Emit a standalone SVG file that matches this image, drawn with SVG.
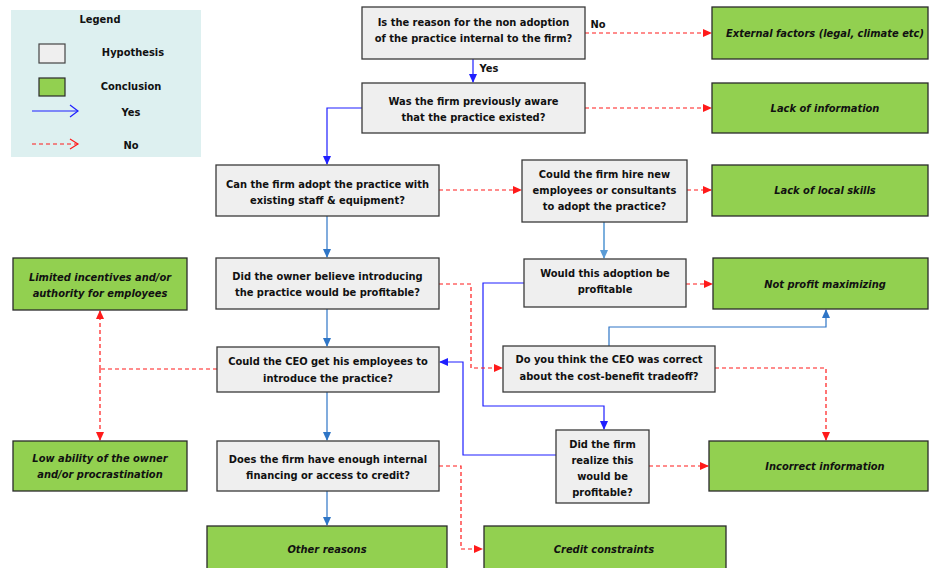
<svg xmlns="http://www.w3.org/2000/svg" width="929" height="568" viewBox="0 0 929 568">
<defs>
<style>
.hyp{fill:#efefef;stroke:#3a3a3a;stroke-width:1.3}
.con{fill:#92d050;stroke:#2a2a2a;stroke-width:1.3}
.t{font-family:"DejaVu Sans Condensed","Liberation Sans",sans-serif;font-weight:bold;font-size:11px;fill:#111;text-anchor:middle}
.ti{font-family:"DejaVu Sans Condensed","Liberation Sans",sans-serif;font-weight:bold;font-style:italic;font-size:11px;fill:#111;text-anchor:middle}
.no{fill:none;stroke:#ff1a1a;stroke-width:1.2;stroke-dasharray:4,3}
.yes{fill:none;stroke:#1f1fff;stroke-width:1.2}
.st{fill:none;stroke:#2e75c6;stroke-width:1.2}
.lt{fill:none;stroke:#5b9bd5;stroke-width:1.6}
</style>
<marker id="ar" markerWidth="9" markerHeight="8" refX="8" refY="4" orient="auto" markerUnits="userSpaceOnUse"><path d="M0,0 L9,4 L0,8 z" fill="#ff1a1a"/></marker>
<marker id="ab" markerWidth="9" markerHeight="8" refX="8" refY="4" orient="auto" markerUnits="userSpaceOnUse"><path d="M0,0 L9,4 L0,8 z" fill="#1f1fff"/></marker>
<marker id="as" markerWidth="9" markerHeight="8" refX="8" refY="4" orient="auto" markerUnits="userSpaceOnUse"><path d="M0,0 L9,4 L0,8 z" fill="#2e75c6"/></marker>
<marker id="al" markerWidth="9" markerHeight="8" refX="8" refY="4" orient="auto" markerUnits="userSpaceOnUse"><path d="M0,0 L9,4 L0,8 z" fill="#5b9bd5"/></marker>
</defs>
<rect width="929" height="568" fill="#ffffff"/>

<g id="legend">
<rect x="11" y="10" width="190" height="147" fill="#ddf0f0"/>
<text class="t" x="100" y="23">Legend</text>
<rect x="39" y="44" width="26" height="19" fill="#efefef" stroke="#444" stroke-width="1.2"/>
<text class="t" x="133" y="56">Hypothesis</text>
<rect x="39" y="78" width="26" height="18" fill="#92d050" stroke="#2a2a2a" stroke-width="1.2"/>
<text class="t" x="131" y="90">Conclusion</text>
<line x1="32" y1="111" x2="78" y2="111" stroke="#1f1fff" stroke-width="1.2"/>
<polyline points="70,105 78,111 70,117" fill="none" stroke="#1f1fff" stroke-width="1.2"/>
<text class="t" x="131" y="116">Yes</text>
<line x1="32" y1="144" x2="78" y2="144" stroke="#ff1a1a" stroke-width="1.2" stroke-dasharray="4,3"/>
<polyline points="70,139 78,144 70,149" fill="none" stroke="#ff1a1a" stroke-width="1.2"/>
<text class="t" x="131" y="149">No</text>
</g>

<g id="connectors">
<path class="no" d="M585,33 H711" marker-end="url(#ar)"/>
<text class="t" x="598" y="28">No</text>
<path class="yes" d="M473,59 V82" marker-end="url(#ab)"/>
<text class="t" x="489" y="72">Yes</text>
<path class="no" d="M585,108 H711" marker-end="url(#ar)"/>
<path class="yes" d="M362,108 H327 V164" marker-end="url(#ab)"/>
<path class="no" d="M439,190 H521" marker-end="url(#ar)"/>
<path class="st" d="M327,216 V257" marker-end="url(#as)"/>
<path class="no" d="M687,190 H711" marker-end="url(#ar)"/>
<path class="lt" d="M604,222 V258" marker-end="url(#al)"/>
<path class="no" d="M686,284 H712" marker-end="url(#ar)"/>
<path class="yes" d="M524,283 H483 V406 H604 V429" marker-end="url(#ab)"/>
<path class="no" d="M439,284 H471 V368 H502" marker-end="url(#ar)"/>
<path class="st" d="M327,309 V346" marker-end="url(#as)"/>
<path class="st" d="M609,346 V327 H826 V310" marker-end="url(#as)"/>
<path class="no" d="M715,368 H826 V440" stroke="#ff5050" marker-end="url(#ar)"/>
<path class="yes" d="M556,455 H463 V362 H440" marker-end="url(#ab)"/>
<path class="no" d="M649,466 H708" marker-end="url(#ar)"/>
<path class="no" d="M217,369 H100"/>
<path class="no" d="M100,369 V311" marker-end="url(#ar)"/>
<path class="no" d="M100,369 V440" marker-end="url(#ar)"/>
<path class="st" d="M327,392 V440" marker-end="url(#as)"/>
<path class="st" d="M327,491 V525" marker-end="url(#as)"/>
<path class="no" d="M439,466 H461 V549 H482" marker-end="url(#ar)"/>
</g>

<g id="n1"><rect class="hyp" x="362" y="7" width="223" height="52"/>
<text class="t" x="473.5" y="26">Is the reason for the non adoption</text>
<text class="t" x="473.5" y="42">of the practice internal to the firm?</text></g>

<g id="n2"><rect class="hyp" x="362" y="83" width="223" height="50"/>
<text class="t" x="473.5" y="105">Was the firm previously aware</text>
<text class="t" x="473.5" y="121">that the practice existed?</text></g>

<g id="n3"><rect class="hyp" x="216" y="165" width="223" height="51"/>
<text class="t" x="327.5" y="188">Can the firm adopt the practice with</text>
<text class="t" x="327.5" y="204">existing staff &amp; equipment?</text></g>

<g id="n4"><rect class="hyp" x="522" y="160" width="165" height="62"/>
<text class="t" x="604.5" y="178">Could the firm hire new</text>
<text class="t" x="604.5" y="194">employees or consultants</text>
<text class="t" x="604.5" y="210">to adopt the practice?</text></g>

<g id="n5"><rect class="hyp" x="216" y="258" width="223" height="51"/>
<text class="t" x="327.5" y="280">Did the owner believe introducing</text>
<text class="t" x="327.5" y="296">the practice would be profitable?</text></g>

<g id="n6"><rect class="hyp" x="524" y="259" width="162" height="48"/>
<text class="t" x="605" y="277">Would this adoption be</text>
<text class="t" x="605" y="293">profitable</text></g>

<g id="n7"><rect class="hyp" x="503" y="346" width="212" height="46"/>
<text class="t" x="609" y="363">Do you think the CEO was correct</text>
<text class="t" x="609" y="380">about the cost-benefit tradeoff?</text></g>

<g id="n8"><rect class="hyp" x="217" y="347" width="222" height="45"/>
<text class="t" x="328" y="365">Could the CEO get his employees to</text>
<text class="t" x="328" y="382">introduce the practice?</text></g>

<g id="n9"><rect class="hyp" x="217" y="441" width="222" height="50"/>
<text class="t" x="328" y="463">Does the firm have enough internal</text>
<text class="t" x="328" y="479">financing or access to credit?</text></g>

<g id="n10"><rect class="hyp" x="556" y="430" width="93" height="73"/>
<text class="t" x="602.5" y="448">Did the firm</text>
<text class="t" x="602.5" y="464">realize this</text>
<text class="t" x="602.5" y="480">would be</text>
<text class="t" x="602.5" y="496">profitable?</text></g>

<g id="c1"><rect class="con" x="712" y="7" width="216" height="52"/>
<text class="ti" x="825" y="37">External factors (legal, climate etc)</text></g>

<g id="c2"><rect class="con" x="712" y="83" width="216" height="50"/>
<text class="ti" x="825" y="112">Lack of information</text></g>

<g id="c3"><rect class="con" x="712" y="165" width="216" height="51"/>
<text class="ti" x="825" y="194">Lack of local skills</text></g>

<g id="c4"><rect class="con" x="713" y="258" width="215" height="51"/>
<text class="ti" x="825" y="288">Not profit maximizing</text></g>

<g id="c5"><rect class="con" x="709" y="441" width="219" height="50"/>
<text class="ti" x="825" y="470">Incorrect information</text></g>

<g id="c6"><rect class="con" x="13" y="258" width="174" height="52"/>
<text class="ti" x="100" y="281">Limited incentives and/or</text>
<text class="ti" x="100" y="297">authority  for employees</text></g>

<g id="c7"><rect class="con" x="13" y="441" width="174" height="50"/>
<text class="ti" x="100" y="462">Low ability of the owner</text>
<text class="ti" x="100" y="478">and/or procrastination</text></g>

<g id="c8"><rect class="con" x="207" y="526" width="240" height="45"/>
<text class="ti" x="327" y="553">Other reasons</text></g>

<g id="c9"><rect class="con" x="484" y="526" width="242" height="45"/>
<text class="ti" x="604" y="553">Credit constraints</text></g>
</svg>
